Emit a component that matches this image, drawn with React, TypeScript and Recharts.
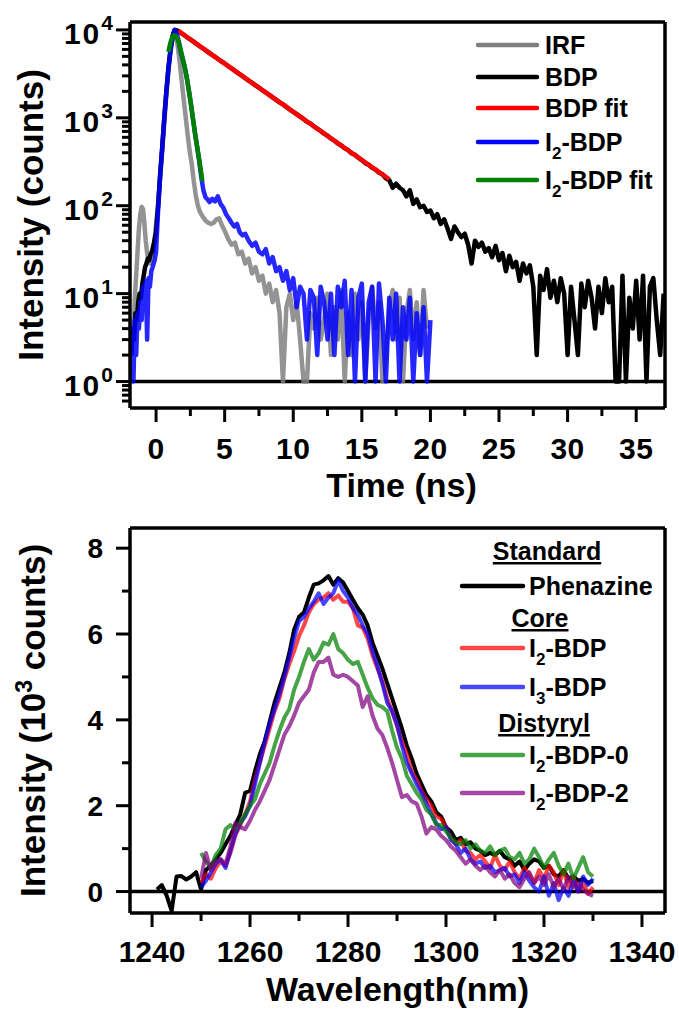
import { Legend, Line, LineChart, ReferenceLine, XAxis, YAxis } from "recharts";

const FONT = "'Liberation Sans', Arial, Helvetica, sans-serif";
const AXIS = { stroke: "#000", strokeWidth: 3.5 };

// ---- top panel: fluorescence decay (time in ns, counts) ----
const irfPoints: [number, number][] = [
  [-1.85, 2], [-1.75, 5], [-1.65, 3], [-1.55, 9], [-1.45, 16], [-1.35, 30], [-1.25, 55], [-1.15, 80],
  [-1.05, 97], [-0.95, 92], [-0.85, 62], [-0.75, 40], [-0.65, 29], [-0.55, 24], [-0.45, 22], [-0.35, 25],
  [-0.2, 30], [-0.1, 42], [0.0, 62], [0.15, 105], [0.3, 210], [0.45, 420], [0.6, 900], [0.75, 1800],
  [0.9, 3400], [1.05, 5600], [1.2, 8000], [1.3, 9200], [1.4, 9000], [1.55, 7000], [1.7, 4600], [1.85, 2800],
  [2.0, 1700], [2.15, 1050], [2.3, 650], [2.45, 420], [2.6, 300], [2.75, 190], [2.9, 130], [3.05, 100],
  [3.2, 85], [3.4, 75], [3.6, 68], [3.8, 64], [4.0, 62], [4.2, 64], [4.4, 70], [4.6, 72], [4.8, 60],
  [5.0, 52], [5.25, 42], [5.5, 36], [5.75, 38], [6.0, 28], [6.25, 30], [6.5, 22], [6.75, 25], [7.0, 17],
  [7.25, 20], [7.5, 14], [7.75, 16], [8.0, 10], [8.25, 13], [8.5, 8], [8.75, 11], [9.0, 6], [9.25, 1],
  [9.5, 7], [9.75, 10], [10.0, 5], [10.25, 8], [10.5, 3], [10.75, 1], [11.0, 1], [11.25, 6], [11.5, 4],
  [11.75, 9], [12.0, 3], [12.25, 5], [12.5, 10], [12.75, 2], [13.0, 7], [13.25, 3], [13.5, 11], [13.75, 1],
  [14.0, 6], [14.25, 2], [14.5, 10], [14.75, 3], [15.0, 8], [15.25, 1], [15.5, 5], [15.75, 12], [16.0, 4],
  [16.25, 8], [16.5, 1], [16.75, 2], [17.0, 7], [17.25, 11], [17.5, 3], [17.75, 9], [18.0, 1], [18.25, 6],
  [18.5, 11], [18.75, 3], [19.0, 8], [19.25, 2], [19.5, 11], [19.75, 4],
];

const bdpPoints: [number, number][] = [
  [-1.8, 2], [-1.7, 4], [-1.6, 3], [-1.5, 6], [-1.4, 5], [-1.3, 8], [-1.2, 10], [-1.1, 9], [-1.0, 13],
  [-0.9, 16], [-0.8, 20], [-0.7, 22], [-0.6, 25], [-0.5, 24], [-0.4, 28], [-0.3, 30], [-0.15, 38],
  [0.0, 50], [0.15, 100], [0.3, 230], [0.45, 470], [0.6, 1000], [0.75, 2000], [0.9, 3700], [1.05, 6000],
  [1.2, 8500], [1.35, 10000], [1.5, 9900], [1.75, 9400], [2.0, 8850], [2.25, 8250], [2.5, 7800],
  [2.75, 7300], [3.0, 6850], [3.25, 6400], [3.5, 6050], [3.75, 5650], [4.0, 5300], [4.25, 5000],
  [4.5, 4700], [4.75, 4400], [5.0, 4150], [5.25, 3880], [5.5, 3650], [5.75, 3420], [6.0, 3200],
  [6.25, 3020], [6.5, 2830], [6.75, 2650], [7.0, 2500], [7.25, 2340], [7.5, 2200], [7.75, 2060],
  [8.0, 1940], [8.25, 1820], [8.5, 1710], [8.75, 1600], [9.0, 1500], [9.25, 1420], [9.5, 1330],
  [9.75, 1240], [10.0, 1170], [10.25, 1100], [10.5, 1030], [10.75, 970], [11.0, 900], [11.25, 860],
  [11.5, 800], [11.75, 750], [12.0, 710], [12.25, 660], [12.5, 625], [12.75, 580], [13.0, 550],
  [13.25, 510], [13.5, 485], [13.75, 450], [14.0, 430], [14.25, 395], [14.5, 380], [14.75, 350],
  [15.0, 330], [15.25, 305], [15.5, 292], [15.75, 270], [16.0, 258], [16.25, 238], [16.5, 228],
  [16.75, 205], [17.0, 195], [17.25, 160], [17.5, 178], [17.75, 160], [18.0, 150], [18.25, 128],
  [18.5, 150], [18.75, 105], [19.0, 118], [19.25, 96], [19.5, 100], [19.75, 85], [20.0, 88], [20.25, 72],
  [20.5, 80], [20.75, 62], [21.0, 70], [21.25, 55], [21.5, 42], [21.75, 58], [22.0, 50], [22.25, 44],
  [22.5, 48], [22.75, 36], [23.0, 22], [23.25, 40], [23.5, 34], [23.75, 38], [24.0, 30], [24.25, 33],
  [24.5, 26], [24.75, 35], [25.0, 24], [25.25, 29], [25.5, 18], [25.75, 27], [26.0, 20], [26.25, 23],
  [26.5, 14], [26.75, 22], [27.0, 17], [27.25, 21], [27.5, 12], [27.75, 2], [28.0, 16], [28.25, 11],
  [28.5, 19], [28.75, 9], [29.0, 14], [29.25, 8], [29.5, 15], [29.75, 10], [30.0, 2], [30.25, 12],
  [30.5, 5], [30.75, 2], [31.0, 13], [31.25, 7], [31.5, 14], [31.75, 9], [32.0, 4], [32.25, 12],
  [32.5, 6], [32.75, 15], [33.0, 8], [33.25, 12], [33.5, 1], [33.75, 1], [34.0, 16], [34.25, 1],
  [34.5, 9], [34.75, 4], [35.0, 14], [35.25, 3], [35.5, 16], [35.75, 1], [36.0, 12], [36.25, 15],
  [36.5, 5], [36.75, 2], [37.0, 10],
];

const bdpFitPoints: [number, number][] = [
  [1.6, 9800], [2.5, 7770], [3.5, 6040], [4.5, 4690], [5.5, 3645], [6.5, 2832], [7.5, 2200],
  [8.5, 1710], [9.5, 1329], [10.5, 1033], [11.5, 802], [12.5, 623], [13.5, 484], [14.5, 376],
  [15.5, 292], [16.5, 227], [17.0, 200],
];

const i2bdpPoints: [number, number][] = [
  [-1.8, 1], [-1.75, 4], [-1.65, 1], [-1.55, 5], [-1.45, 2], [-1.35, 6], [-1.25, 4], [-1.15, 8],
  [-1.05, 5], [-0.95, 12], [-0.85, 9], [-0.75, 14], [-0.65, 3], [-0.55, 15], [-0.45, 12], [-0.35, 18],
  [-0.25, 20], [-0.1, 24], [0.0, 30], [0.15, 90], [0.3, 220], [0.45, 450], [0.6, 1000], [0.75, 2000],
  [0.9, 3600], [1.05, 5800], [1.2, 8300], [1.35, 10000], [1.5, 9200], [1.65, 7400], [1.8, 5600],
  [1.95, 4600], [2.1, 3700], [2.25, 2800], [2.4, 2000], [2.55, 1400], [2.7, 950], [2.85, 650],
  [3.0, 460], [3.15, 320], [3.3, 210], [3.45, 150], [3.6, 125], [3.75, 118], [3.9, 110], [4.1, 120],
  [4.3, 112], [4.5, 128], [4.7, 105], [4.9, 95], [5.1, 80], [5.3, 72], [5.5, 64], [5.7, 58], [5.9, 62],
  [6.1, 50], [6.3, 46], [6.5, 48], [6.75, 40], [7.0, 35], [7.25, 38], [7.5, 30], [7.75, 28], [8.0, 32],
  [8.25, 22], [8.5, 26], [8.75, 18], [9.0, 20], [9.25, 14], [9.5, 18], [9.75, 11], [10.0, 15],
  [10.25, 7], [10.5, 12], [10.75, 10], [11.0, 3], [11.25, 11], [11.5, 9], [11.75, 2], [12.0, 12],
  [12.25, 8], [12.5, 3], [12.75, 10], [13.0, 2], [13.25, 12], [13.5, 7], [13.75, 14], [14.0, 2],
  [14.25, 11], [14.5, 1], [14.75, 9], [15.0, 13], [15.25, 1], [15.5, 8], [15.75, 12], [16.0, 1],
  [16.25, 13], [16.5, 5], [16.75, 1], [17.0, 9], [17.25, 3], [17.5, 10], [17.75, 1], [18.0, 7],
  [18.25, 3], [18.5, 9], [18.75, 1], [19.0, 6], [19.25, 2], [19.5, 7], [19.75, 1], [20.0, 5],
];

const i2bdpFitPoints: [number, number][] = [
  [0.9, 5600], [1.05, 7200], [1.2, 8400], [1.33, 8700], [1.5, 8300], [1.65, 7300], [1.8, 5900],
  [1.95, 4700], [2.1, 3700], [2.25, 2800], [2.4, 2000], [2.55, 1400], [2.7, 950], [2.85, 650],
  [3.0, 460], [3.15, 330], [3.3, 230], [3.37, 190],
];

const decayNames = ["IRF", "BDP", "BDP fit", "I_2-BDP", "I_2-BDP fit"];
const decayColors = ["#808080", "#000000", "#ff0000", "#0000ff", "#008000"];
const timeTicks = [0, 2.5, 5, 7.5, 10, 12.5, 15, 17.5, 20, 22.5, 25, 27.5, 30, 32.5, 35];
const logTicks = [
  0.6, 0.7, 0.8, 0.9, 1, 2, 3, 4, 5, 6, 7, 8, 9, 10, 20, 30, 40, 50, 60, 70, 80, 90,
  100, 200, 300, 400, 500, 600, 700, 800, 900, 1000, 2000, 3000, 4000, 5000, 6000, 7000, 8000, 9000, 10000,
];
const timeDomain: [number, number] = [-1.9, 37.1];
const countDomain: [number, number] = [0.5, 12300];

// ---- bottom panel: singlet oxygen emission (10^3 counts) ----
const phenazineStart = 1241;
const phenazine = [
  0.05, 0.15, -0.1, -0.45, 0.35, 0.36, 0.28, 0.35, 0.45, 0.05, 0.5, 0.6, 0.75, 0.9, 1.1, 1.3, 1.55, 1.8,
  2.3, 2.35, 2.8, 3.2, 3.5, 3.95, 4.4, 4.75, 5.1, 5.55, 6.1, 6.4, 6.5, 6.85, 7.15, 7.18, 7.25, 7.35,
  7.15, 7.3, 7.2, 7.0, 6.8, 6.6, 6.45, 6.2, 5.8, 5.5, 5.2, 4.85, 4.5, 4.15, 3.8, 3.4, 3.1, 2.75, 2.5,
  2.25, 2.1, 1.85, 1.75, 1.5, 1.4, 1.2, 1.25, 1.1, 1.15, 1.0, 0.95, 0.85, 0.9, 0.85, 0.95, 0.8, 0.75,
  0.6, 0.7, 0.5, 0.65, 0.75, 0.7, 0.55, 0.6, 0.4, 0.35, 0.5, 0.3, 0.35, 0.25, 0.3, 0.2, 0.25,
];
const sampleStart = 1250;
const i2bdp = [
  0.2, 0.4, 0.3, 0.55, 0.7, 0.6, 0.9, 1.3, 1.55, 1.8, 2.1, 2.6, 3.0, 3.4, 3.8, 4.2, 4.5, 4.95, 5.3,
  5.6, 5.95, 6.2, 6.5, 6.7, 6.8, 6.85, 6.95, 6.8, 6.9, 6.75, 6.75, 6.6, 6.2, 6.15, 5.9, 5.5, 5.2, 4.9,
  4.5, 4.2, 3.85, 3.5, 3.2, 2.8, 2.6, 2.35, 2.15, 2.0, 1.75, 1.7, 1.5, 1.25, 1.1, 1.2, 0.95, 0.9, 0.75,
  0.85, 0.7, 0.55, 0.85, 0.6, 0.5, 0.7, 0.45, 0.3, 0.55, 0.4, 0.2, 0.5, 0.3, 0.6, 0.45, 0.15, 0.5,
  0.1, 0.35, 0.0, 0.2, -0.05, 0.1,
];
const i3bdp = [
  0.1, 0.25, 0.45, 0.65, 0.75, 0.55, 0.95, 1.35, 1.6, 1.75, 2.0, 2.5, 3.0, 3.5, 3.9, 4.25, 4.6, 5.0,
  5.45, 5.9, 6.3, 6.4, 6.6, 6.75, 6.95, 6.7, 6.85, 6.95, 7.25, 7.0, 6.85, 6.6, 6.45, 6.2, 6.0, 5.6,
  5.25, 4.85, 4.4, 4.2, 3.9, 3.4, 3.0, 2.75, 2.5, 2.3, 2.05, 1.8, 1.6, 1.45, 1.5, 1.2, 1.1, 0.9, 1.0,
  0.75, 0.65, 0.7, 0.55, 0.6, 0.45, 0.5, 0.55, 0.35, 0.4, 0.2, 0.45, 0.25, 0.1, 0.0, 0.35, -0.1, 0.2,
  -0.2, 0.1, -0.1, 0.25, 0.0, 0.35, 0.15, 0.3,
];
const i2bdp0 = [
  0.9, 0.7, 0.55, 0.85, 1.0, 1.45, 1.55, 1.45, 1.6, 1.8, 2.0, 2.15, 2.5, 2.75, 3.0, 3.4, 3.75, 4.05,
  4.25, 4.7, 5.0, 5.35, 5.65, 5.4, 5.55, 5.8, 5.75, 6.0, 5.65, 5.55, 5.4, 5.3, 5.35, 5.05, 4.75, 4.5,
  4.35, 4.3, 4.2, 3.75, 3.35, 3.1, 2.7, 2.5, 2.3, 2.15, 1.9, 1.8, 1.55, 1.55, 1.4, 1.25, 1.15, 1.1, 1.2,
  1.0, 1.1, 0.95, 0.9, 1.05, 0.85, 0.95, 1.0, 0.8, 0.75, 0.9, 0.65, 0.75, 1.0, 0.8, 0.55, 0.75, 0.9,
  0.6, 0.4, 0.65, 0.3, 0.55, 0.8, 0.45, 0.35,
];
const i2bdp2 = [
  0.3, 0.9, 0.5, 0.7, 0.75, 0.65, 1.05, 1.6, 1.5, 1.45, 1.65, 1.9, 2.1, 2.35, 2.6, 2.95, 3.3, 3.65,
  3.85, 4.1, 4.4, 4.55, 4.7, 5.1, 5.35, 5.35, 5.45, 5.05, 5.0, 5.05, 5.0, 4.9, 4.8, 4.3, 4.55, 4.1, 3.8,
  3.65, 3.35, 3.0, 2.6, 2.2, 2.25, 2.1, 2.05, 1.75, 1.35, 1.5, 1.45, 1.3, 1.2, 1.05, 0.95, 0.8, 0.65,
  0.75, 0.6, 0.5, 0.6, 0.45, 0.35, 0.5, 0.3, 0.4, 0.2, 0.1, 0.3, 0.45, 0.2, 0.35, 0.15, 0.4, 0.1, 0.3,
  0.05, 0.35, 0.1, 0.2, 0.05, -0.05, -0.1,
];

const emissionNames = ["Phenazine", "I_2-BDP", "I_3-BDP", "I_2-BDP-0", "I_2-BDP-2"];
const emissionColors = ["#000000", "#ff0000", "#0000ff", "#008000", "#800080"];
const emissionGroups = ["Standard", "Core", "Distyryl"];
const wavelengthTicks = [1240, 1250, 1260, 1270, 1280, 1290, 1300, 1310, 1320, 1330, 1340];
const intensityTicks = [0, 1, 2, 3, 4, 5, 6, 7, 8];
const wlDomain: [number, number] = [1235.5, 1344.7];
const intDomain: [number, number] = [-0.5, 8.47];

const toXY = (pts: [number, number][]) => pts.map(([t, v]) => ({ t, v }));
const toSpectrum = (start: number, vals: number[]) => vals.map((v, i) => ({ wl: start + i, v }));

function Chem({ text, size }: { text: string; size: number }) {
  const m = text.match(/^(.*?)_(\d)(.*)$/);
  if (!m) return <>{text}</>;
  const d = Math.round(size * 0.32);
  return (
    <>
      {m[1]}
      <tspan dy={d} fontSize={Math.round(size * 0.68)}>{m[2]}</tspan>
      <tspan dy={-d}>{m[3]}</tspan>
    </>
  );
}

const txt = { fontFamily: FONT, fontWeight: 700, fill: "#000" } as const;

function TimeTick(props: any) {
  const { x, y, payload } = props;
  const v = payload.value as number;
  const major = Math.abs(v % 5) < 1e-6;
  return (
    <g>
      <line x1={x} x2={x} y1={y} y2={y + (major ? 14 : 8)} stroke="#000" strokeWidth={3} />
      {major && (
        <text x={x} y={y + 51} textAnchor="middle" fontSize={30} letterSpacing={0.5} {...txt}>
          {v}
        </text>
      )}
    </g>
  );
}

function LogTick(props: any) {
  const { x, y, payload } = props;
  const v = payload.value as number;
  const e = Math.log10(v);
  const major = Math.abs(e - Math.round(e)) < 1e-6;
  return (
    <g>
      <line x1={x - (major ? 14 : 8)} x2={x} y1={y} y2={y} stroke="#000" strokeWidth={3} />
      {major && (
        <text x={x - 17} y={y + 14} textAnchor="end" fontSize={30} letterSpacing={2} {...txt}>
          10<tspan dy={-14} fontSize={21} letterSpacing={0}>{Math.round(e)}</tspan>
        </text>
      )}
    </g>
  );
}

function WlTick(props: any) {
  const { x, y, payload } = props;
  const v = payload.value as number;
  const major = v % 20 === 0;
  return (
    <g>
      <line x1={x} x2={x} y1={y} y2={y + (major ? 14 : 8)} stroke="#000" strokeWidth={3} />
      {major && (
        <text x={x} y={y + 49} textAnchor="middle" fontSize={30} {...txt}>
          {v}
        </text>
      )}
    </g>
  );
}

function IntTick(props: any) {
  const { x, y, payload } = props;
  const v = payload.value as number;
  const major = v % 2 === 0;
  return (
    <g>
      <line x1={x - (major ? 14 : 8)} x2={x} y1={y} y2={y} stroke="#000" strokeWidth={3} />
      {major && (
        <text x={x - 27} y={y + 10} textAnchor="end" fontSize={28} {...txt}>
          {v}
        </text>
      )}
    </g>
  );
}

function DecayLegend() {
  const rows = [45, 77, 108, 142, 180];
  return (
    <svg width={679} height={505} style={{ position: "absolute", left: 0, top: 0 }}>
      {decayNames.map((n, i) => (
        <g key={n}>
          <line x1={478} x2={537} y1={rows[i]} y2={rows[i]} stroke={decayColors[i]} strokeWidth={4.5} strokeLinecap="round" />
          <text x={545} y={rows[i] + 9} fontSize={25} {...txt}>
            <Chem text={n} size={25} />
          </text>
        </g>
      ))}
    </svg>
  );
}

function EmissionLegend() {
  const heads = [{ y: 55, cx: 547 }, { y: 122, cx: 540 }, { y: 227, cx: 544 }];
  const rows = [81, 143, 182, 250, 288];
  return (
    <svg width={679} height={504} style={{ position: "absolute", left: 0, top: 0 }}>
      {emissionGroups.map((g, i) => (
        <text key={g} x={heads[i].cx} y={heads[i].y} textAnchor="middle" fontSize={25} textDecoration="underline" {...txt}>
          {g}
        </text>
      ))}
      {emissionNames.map((n, i) => (
        <g key={n}>
          <line x1={462} x2={523} y1={rows[i]} y2={rows[i]} stroke={emissionColors[i]} strokeOpacity={i ? 0.72 : 1} strokeWidth={4.5} strokeLinecap="round" />
          <text x={529} y={rows[i] + 9} fontSize={25} {...txt}>
            <Chem text={n} size={25} />
          </text>
        </g>
      ))}
    </svg>
  );
}

function DecayChart() {
  const series = [irfPoints, bdpPoints, bdpFitPoints, i2bdpPoints, i2bdpFitPoints].map(toXY);
  const opacity = [0.85, 1, 1, 0.85, 1];
  return (
    <LineChart width={679} height={505} margin={{ top: 22, right: 14, bottom: 7, left: 40 }}>
      <XAxis
        dataKey="t"
        type="number"
        domain={timeDomain}
        allowDataOverflow
        ticks={timeTicks}
        interval={0}
        tickSize={0}
        tickMargin={0}
        tickLine={false}
        tick={(p: any) => <TimeTick {...p} />}
        axisLine={AXIS}
        height={90}
        label={{
          content: (p: any) => {
            const vb = p.viewBox;
            return (
              <text x={vb.x + vb.width / 2 + 4} y={vb.y + 89} textAnchor="middle" fontSize={34} {...txt}>
                Time (ns)
              </text>
            );
          },
        }}
      />
      <YAxis
        type="number"
        scale="log"
        domain={countDomain}
        allowDataOverflow
        ticks={logTicks}
        interval={0}
        tickSize={0}
        tickMargin={0}
        tickLine={false}
        tick={(p: any) => <LogTick {...p} />}
        axisLine={AXIS}
        width={90}
        label={{
          content: (p: any) => {
            const vb = p.viewBox;
            const cy = vb.y + vb.height / 2;
            return (
              <text transform={`translate(43, ${cy}) rotate(-90)`} textAnchor="middle" fontSize={35} {...txt}>
                Intensity (counts)
              </text>
            );
          },
        }}
      />
      {/* frame: top and right edges */}
      <ReferenceLine y={countDomain[1]} stroke="#000" strokeWidth={3.5} />
      <ReferenceLine x={timeDomain[1]} stroke="#000" strokeWidth={3.5} />
      <ReferenceLine y={1} stroke="#000" strokeWidth={3.5} />
      {series.map((d, i) => (
        <Line
          key={decayNames[i]}
          data={d}
          dataKey="v"
          name={decayNames[i]}
          type="linear"
          stroke={decayColors[i]}
          strokeOpacity={opacity[i]}
          strokeWidth={4.5}
          strokeLinejoin="round"
          dot={false}
          isAnimationActive={false}
        />
      ))}
      <Legend
        layout="vertical"
        align="center"
        verticalAlign="middle"
        wrapperStyle={{ left: 0, top: 0, width: 679, height: 505, pointerEvents: "none" }}
        content={() => <DecayLegend />}
      />
    </LineChart>
  );
}

function EmissionChart() {
  const series = [
    toSpectrum(phenazineStart, phenazine),
    toSpectrum(sampleStart, i2bdp),
    toSpectrum(sampleStart, i3bdp),
    toSpectrum(sampleStart, i2bdp0),
    toSpectrum(sampleStart, i2bdp2),
  ];
  return (
    <LineChart width={679} height={504} margin={{ top: 23, right: 14, bottom: 6, left: 40 }}>
      <XAxis
        dataKey="wl"
        type="number"
        domain={wlDomain}
        allowDataOverflow
        ticks={wavelengthTicks}
        interval={0}
        tickSize={0}
        tickMargin={0}
        tickLine={false}
        tick={(p: any) => <WlTick {...p} />}
        axisLine={AXIS}
        height={90}
        label={{
          content: (p: any) => {
            const vb = p.viewBox;
            return (
              <text x={vb.x + vb.width / 2} y={vb.y + 88} textAnchor="middle" fontSize={34} {...txt}>
                Wavelength(nm)
              </text>
            );
          },
        }}
      />
      <YAxis
        type="number"
        domain={intDomain}
        allowDataOverflow
        ticks={intensityTicks}
        interval={0}
        tickSize={0}
        tickMargin={0}
        tickLine={false}
        tick={(p: any) => <IntTick {...p} />}
        axisLine={AXIS}
        width={90}
        label={{
          content: (p: any) => {
            const vb = p.viewBox;
            const cy = vb.y + vb.height / 2;
            return (
              <text transform={`translate(45, ${cy}) rotate(-90)`} textAnchor="middle" fontSize={35} {...txt}>
                Intensity (10<tspan dy={-13} fontSize={23}>3</tspan>
                <tspan dy={13}> counts)</tspan>
              </text>
            );
          },
        }}
      />
      {/* frame: top and right edges */}
      <ReferenceLine y={intDomain[1]} stroke="#000" strokeWidth={3.5} />
      <ReferenceLine x={wlDomain[1]} stroke="#000" strokeWidth={3.5} />
      <ReferenceLine y={0} stroke="#000" strokeWidth={3.5} />
      {series.map((d, i) => (
        <Line
          key={emissionNames[i]}
          data={d}
          dataKey="v"
          name={emissionNames[i]}
          type="linear"
          stroke={emissionColors[i]}
          strokeOpacity={i ? 0.72 : 1}
          strokeWidth={4}
          strokeLinejoin="round"
          dot={false}
          isAnimationActive={false}
        />
      ))}
      <Legend
        layout="vertical"
        align="center"
        verticalAlign="middle"
        wrapperStyle={{ left: 0, top: 0, width: 679, height: 504, pointerEvents: "none" }}
        content={() => <EmissionLegend />}
      />
    </LineChart>
  );
}

export default function App() {
  return (
    <div style={{ position: "absolute", left: 0, top: 0, width: 679, height: 1009, background: "#fff" }}>
      <DecayChart />
      <EmissionChart />
    </div>
  );
}
